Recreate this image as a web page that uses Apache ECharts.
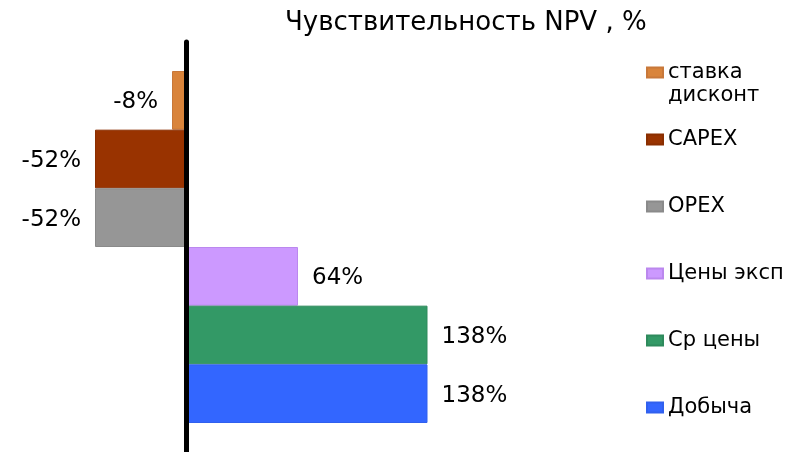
<!DOCTYPE html>
<html>
<head>
<meta charset="utf-8">
<script src="https://cdn.jsdelivr.net/npm/echarts@6/dist/echarts.min.js"></script>
<style>
  html, body { margin: 0; padding: 0; background: #fff; }
  #chart { width: 811px; height: 452px; }
</style>
</head>
<body>
<div id="chart"></div>
<script>
// чувствительность NPV по факторам, %
const categories = ['ставка\nдисконт', 'CAPEX', 'OPEX', 'Цены эксп', 'Ср цены', 'Добыча'];
const values = [-8, -52, -52, 64, 138, 138];

const palette = ['#D9843B', '#993300', '#969696', '#CC99FF', '#339966', '#3366FF'];
const borders = ['#C8783A', '#8A2E00', '#8A8A8A', '#BB88EE', '#2E8A5C', '#3060EE'];
const font = 'DejaVu Sans';
const lh = 23;

const chart = echarts.init(document.getElementById('chart'));

// один ряд на категорию, чтобы легенда показывала каждый фактор
const series = categories.map((name, i) => ({
  name: name,
  type: 'bar',
  xAxisIndex: 0,
  yAxisIndex: 0,
  barWidth: '100%',
  barGap: '-100%',
  itemStyle: { color: palette[i], borderColor: borders[i], borderWidth: 1 },
  label: {
    show: true,
    position: values[i] < 0 ? 'left' : 'right',
    distance: 14,
    offset: [0, 2],
    formatter: '{c}%',
    color: '#000',
    fontFamily: font,
    fontSize: 23
  },
  data: categories.map((c, j) => (j === i ? values[i] : null))
}));

// первая подпись в две строки: первая строка на уровне значка
const legendData = categories.map((name, i) => ({
  name: name,
  textStyle: i === 0
    ? { padding: [lh, 0, 0, 0], rich: { n: {} } }
    : { padding: [lh, 0, lh, 0] }
}));

chart.setOption({
  animation: false,
  title: {
    text: 'Чувствительность NPV , %',
    left: 280,
    top: 5,
    textStyle: { fontFamily: font, fontSize: 26, fontWeight: 'normal', color: '#000' }
  },
  legend: {
    orient: 'vertical',
    left: 641,
    top: 33,
    itemWidth: 16,
    itemHeight: 10,
    itemGap: -2,
    icon: 'rect',
    data: legendData,
    textStyle: { fontFamily: font, fontSize: 21, color: '#000', lineHeight: lh }
  },
  grid: [
    { left: 81, right: 275, top: 71, bottom: 29 },
    { left: 81, right: 275, top: 42, bottom: 0 }
  ],
  xAxis: [
    { type: 'value', gridIndex: 0, min: -60, max: 200, show: false },
    { type: 'value', gridIndex: 1, min: -60, max: 200, show: false }
  ],
  yAxis: [
    { type: 'category', gridIndex: 0, inverse: true, data: categories, show: false },
    {
      type: 'value', gridIndex: 1, min: 0, max: 1, z: 5,
      axisLine: { show: true, onZero: true, lineStyle: { color: '#000', width: 5 } },
      axisTick: { show: false },
      axisLabel: { show: false },
      splitLine: { show: false }
    }
  ],
  series: series
});
</script>
</body>
</html>
